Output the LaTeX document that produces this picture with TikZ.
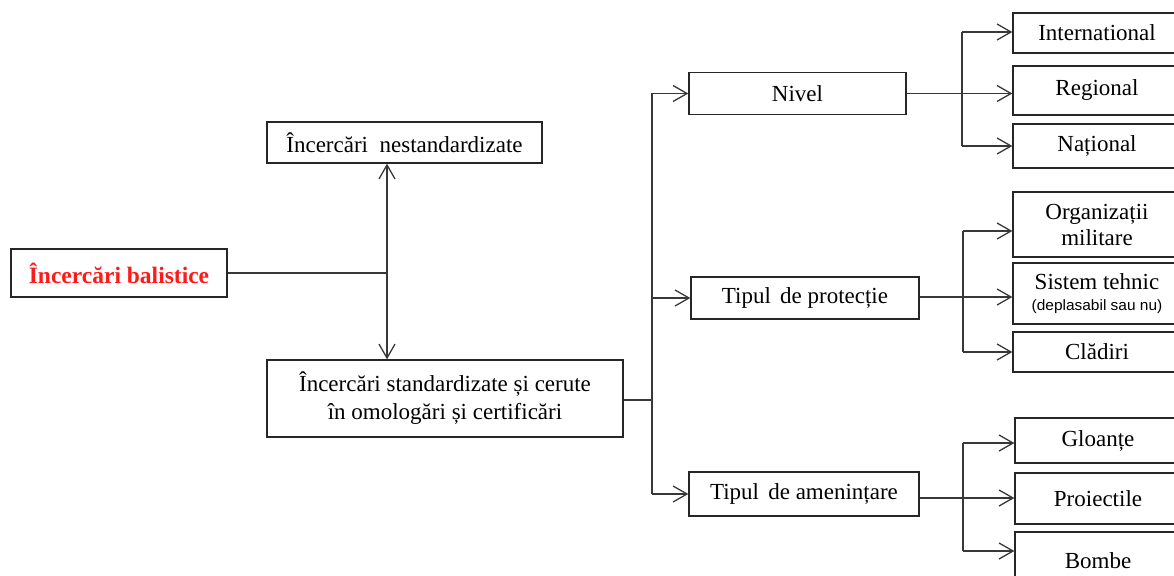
\documentclass[tikz,border=0pt]{standalone}
\usepackage{fontspec}
\setmainfont{Liberation Serif}
\newfontfamily\smallsans{Liberation Sans}
\usetikzlibrary{arrows.meta}
\definecolor{linegray}{HTML}{383838}
\definecolor{boxred}{HTML}{FF1A1A}
\begin{document}
\begin{tikzpicture}[x=1pt,y=-1pt,
  box/.style={draw=black!85, line width=1.3pt, fill=white, inner sep=0pt, align=center,
    font=\fontsize{23}{26}\selectfont},
  conn/.style={draw=linegray, line width=1.3pt},
  arr/.style={conn, -{Straight Barb[length=14pt,width=16pt,line width=1.3pt]}}]
\useasboundingbox (0,0) rectangle (1174,575);
\begin{scope}
\clip (0,0) rectangle (1174,575);
% left part
\node[box, minimum width=216, minimum height=48, text=boxred, font=\fontsize{23.5}{26}\selectfont\bfseries] (bal) at (119,273) {Încercări balistice};
\node[box, minimum width=275, minimum height=41] (nestd) at (404.5,142.5) {Încercări\hspace{0.5em}nestandardizate};
\node[box, minimum width=356, minimum height=77, font=\fontsize{23}{28}\selectfont] (std) at (445,398.5) {Încercări standardizate și cerute\\în omologări și certificări};
% middle
\node[box, minimum width=217, minimum height=42] (nivel) at (797.5,93.5) {Nivel};
\node[box, minimum width=228, minimum height=42] (prot) at (805,298) {Tipul\hspace{0.4em}de protecție};
\node[box, minimum width=230, minimum height=44] (amen) at (804,494) {Tipul\hspace{0.4em}de amenințare};
% right
\node[box, minimum width=168, minimum height=40] (intl) at (1097,33) {International};
\node[box, minimum width=168, minimum height=49] (reg) at (1097,90.5) {Regional};
\node[box, minimum width=168, minimum height=44] (nat) at (1097,146) {Național};
\node[box, minimum width=168, minimum height=65, font=\fontsize{23}{26}\selectfont] (org) at (1097,224.5) {Organizații\\militare};
\node[box, minimum width=168, minimum height=61] (sis) at (1097,293.5) {Sistem tehnic\\[-5pt]{\smallsans\fontsize{15}{16}\selectfont\scalebox{1.03}[1]{(deplasabil sau nu)}}};
\node[box, minimum width=168, minimum height=40] (cla) at (1097,352) {Clădiri};
\node[box, minimum width=166, minimum height=45] (glo) at (1098,440.5) {Gloanțe};
\node[box, minimum width=166, minimum height=51] (pro) at (1098,498.5) {Proiectile};
\node[box, minimum width=166, minimum height=58] (bom) at (1098,561) {Bombe};
% trunk 1
\coordinate (j1) at (387,273);
\draw[conn] (bal.east) -- (j1);
\draw[arr] (j1) -- (j1 |- nestd.south);
\draw[arr] (j1) -- (j1 |- std.north);
% trunk 2
\coordinate (j2) at (652,400);
\draw[conn] (std.east |- j2) -- (j2);
\draw[conn] (j2 |- nivel.west) -- (j2 |- amen.west);
\draw[arr] (j2 |- nivel.west) -- (nivel.west);
\draw[arr] (j2 |- prot.west) -- (prot.west);
\draw[arr] (j2 |- amen.west) -- (amen.west);
% branch 1
\coordinate (b1t) at (962,32);
\coordinate (b1b) at (962,146);
\draw[conn] (b1t) -- (b1b);
\draw[arr] (b1t) -- (b1t -| intl.west);
\draw[arr] (nivel.east) -- (nivel.east -| reg.west);
\draw[arr] (b1b) -- (b1b -| nat.west);
% branch 2
\coordinate (b2t) at (963,231);
\coordinate (b2m) at (963,297);
\coordinate (b2b) at (963,352);
\draw[conn] (b2t) -- (b2b);
\draw[conn] (prot.east |- b2m) -- (b2m);
\draw[arr] (b2t) -- (b2t -| org.west);
\draw[arr] (b2m) -- (b2m -| sis.west);
\draw[arr] (b2b) -- (b2b -| cla.west);
% branch 3
\coordinate (b3t) at (963,443);
\coordinate (b3m) at (963,498);
\coordinate (b3b) at (963,551);
\draw[conn] (b3t) -- (b3b);
\draw[conn] (amen.east |- b3m) -- (b3m);
\draw[arr] (b3t) -- (b3t -| glo.west);
\draw[arr] (b3m) -- (b3m -| pro.west);
\draw[arr] (b3b) -- (b3b -| bom.west);
\end{scope}
\end{tikzpicture}
\end{document}
